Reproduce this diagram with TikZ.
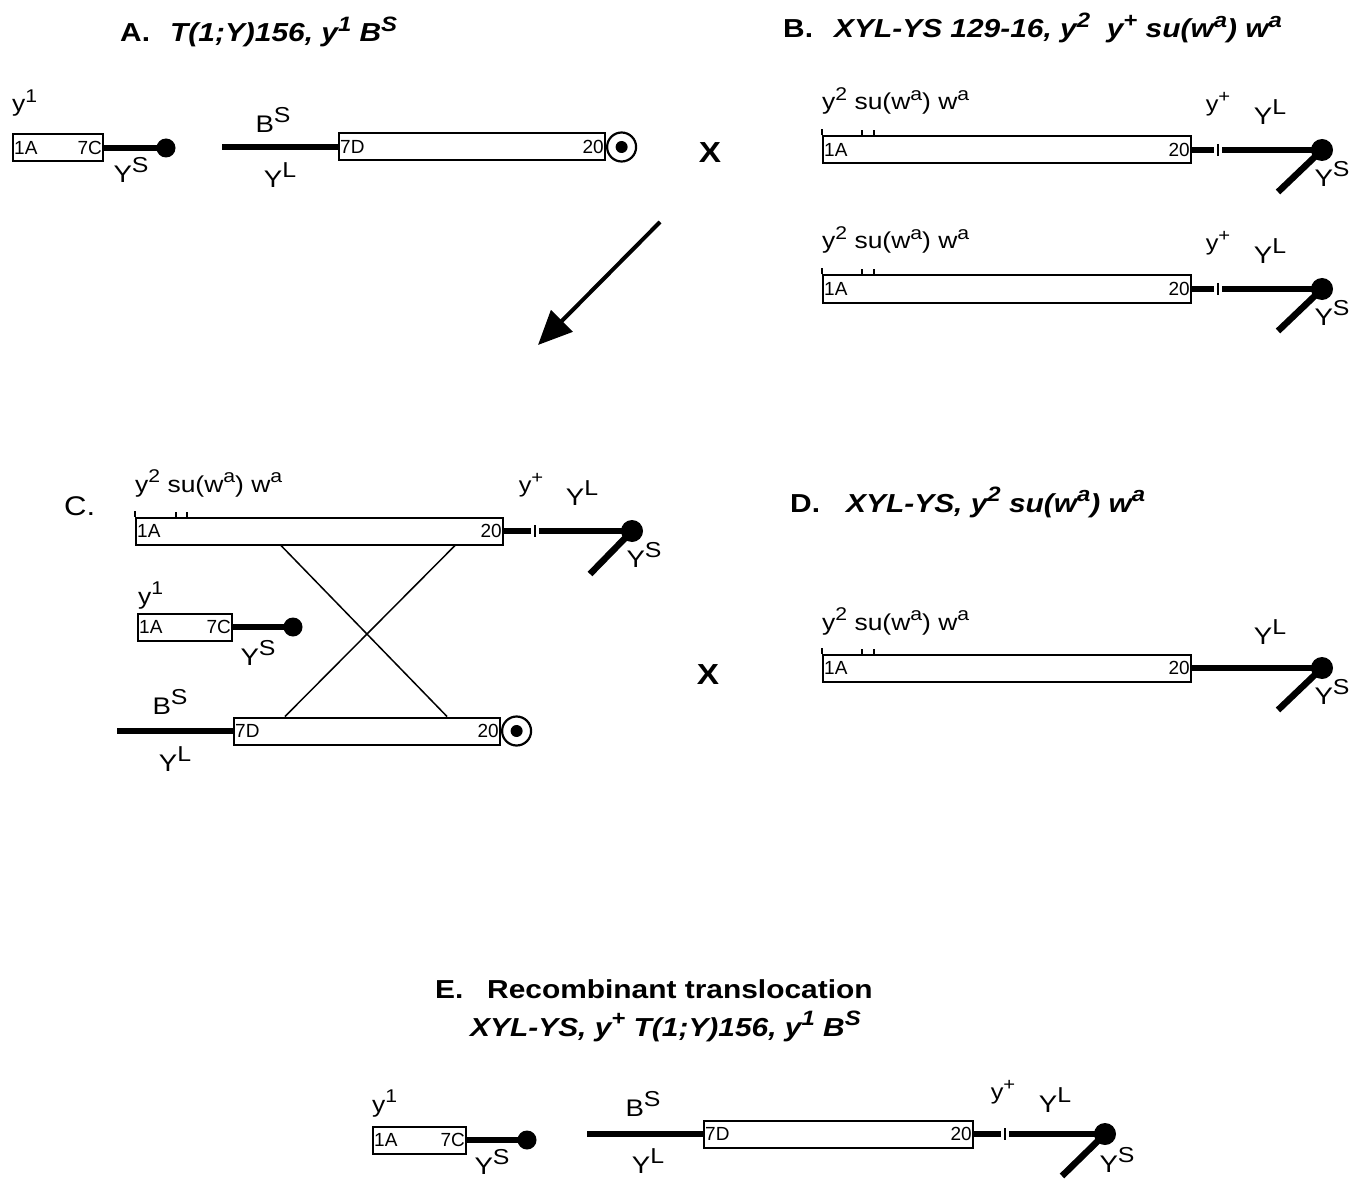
\documentclass[tikz,border=0pt]{standalone}
\usepackage{graphicx}
\usepackage{fontspec}
\setmainfont[FakeStretch=1.15]{Liberation Sans}
\newfontfamily\bandfont{Liberation Sans}
\usetikzlibrary{arrows.meta}
\newcommand\sups[1]{\raisebox{0.42em}{\scalebox{0.8}{#1}}}
\newcommand\ysup[1]{\raisebox{0.45em}{\scalebox{0.9}{#1}}}
\begin{document}
\begin{tikzpicture}[x=1pt,y=-1pt,
  ttl/.style={font=\fontsize{26}{28}\selectfont\bfseries, anchor=base west, inner sep=0pt},
  gl/.style={font=\fontsize{23}{24}\selectfont, anchor=base west, inner sep=0pt},
  gp/.style={font=\fontsize{22}{24}\selectfont, inner sep=0pt},
  yl/.style={font=\fontsize{24}{25}\selectfont, inner sep=0pt},
  bd/.style={font=\bandfont\fontsize{19}{19}\selectfont, inner sep=2pt},
  chr/.style={draw, line width=2pt, minimum height=27pt, inner sep=0pt, fill=white},
  arm/.style={line width=6.5pt},
  cen/.style={circle, fill, inner sep=0pt, minimum size=20pt},
  ring/.style={circle, draw, line width=2.2pt, minimum size=29pt, inner sep=0pt, fill=white},
  ringdot/.style={circle, fill, inner sep=0pt, minimum size=12pt},
  tk/.style={line width=1.5pt},
  cross/.style={line width=1.5pt},
  xmark/.style={font=\fontsize{29}{29}\selectfont\bfseries, inner sep=0pt}]
\useasboundingbox (0,0) rectangle (1362,1182);

% ---------------- Panel A
\node[ttl] (tA) at (120,42) {A.};
\node[ttl] (tAg) at (170,42) {\itshape T(1;Y)156, y\sups{1} B\sups{S}};

\node[gl] (a1g) at (12,112) {y\sups{1}};
\node[chr, minimum width=90pt, anchor=west] (a1) at (12,148) {};
\node[bd, anchor=west] at (a1.west) {1A};
\node[bd, anchor=east] at (a1.east) {7C};
\node[cen, minimum size=19pt] (a1c) at (166,148) {};
\draw[arm] (a1.east) -- (a1c.center);
\node[yl] (a1s) at (131,170) {Y\ysup{S}};

\node[yl] (a2b) at (273,120) {B\ysup{S}};
\node[chr, minimum width=266pt, anchor=west] (a2) at (338,147) {};
\coordinate (a2l) at (222,147);
\draw[arm] (a2l) -- (a2.west);
\node[bd, anchor=west] at (a2.west) {7D};
\node[bd, anchor=east] at (a2.east) {20};
\node[ring, anchor=west] (a2c) at (a2.east) {};
\node[ringdot] (a2cd) at (a2c) {};
\node[yl] (a2y) at (280,175) {Y\ysup{L}};

\node[xmark] (x1) at (710,153) {X};

\coordinate (ar1) at (660,222);
\coordinate (ar2) at (538,345);
\draw[line width=4pt, -{Triangle[length=34pt,width=30pt]}] (ar1) -- (ar2);

% ---------------- Panel B
\node[ttl] (tB) at (783,38) {B.};
\node[ttl] (tBg) at (834,38) {\itshape XYL-YS 129-16, y\sups{2}\ \ y\sups{+} su(w\sups{a}) w\sups{a}};

% B1
\node[gl] (b1g) at (822,110) {y\sups{2} su(w\sups{a}) w\sups{a}};
\node[chr, minimum width=368pt, anchor=west] (b1) at (822,150) {};
\draw[tk] (b1.north west) -- ++(0,-6);
\draw[tk] ([xshift=40pt]b1.north west) -- ++(0,-5);
\draw[tk] ([xshift=52pt]b1.north west) -- ++(0,-5);
\node[bd, anchor=west] at (b1.west) {1A};
\node[bd, anchor=east] at (b1.east) {20};
\node[cen, minimum size=22pt] (b1c) at (1322,150) {};
\coordinate (b1t) at (1218,150);
\draw[arm] (b1.east) -- ([xshift=-4pt]b1t);
\draw[arm] ([xshift=4pt]b1t) -- (b1c.center);
\draw[tk] ([yshift=6pt]b1t) -- ([yshift=-6pt]b1t);
\coordinate (b1d) at (1278,192);
\draw[arm] (b1c.center) -- (b1d);
\node[gp] (b1p) at (1218,104) {y\sups{+}};
\node[yl] (b1l) at (1270,112) {Y\ysup{L}};
\node[yl] (b1s) at (1332,174) {Y\ysup{S}};

% B2
\node[gl] (b2g) at (822,249) {y\sups{2} su(w\sups{a}) w\sups{a}};
\node[chr, minimum width=368pt, anchor=west] (b2) at (822,289) {};
\draw[tk] (b2.north west) -- ++(0,-6);
\draw[tk] ([xshift=40pt]b2.north west) -- ++(0,-5);
\draw[tk] ([xshift=52pt]b2.north west) -- ++(0,-5);
\node[bd, anchor=west] at (b2.west) {1A};
\node[bd, anchor=east] at (b2.east) {20};
\node[cen, minimum size=22pt] (b2c) at (1322,289) {};
\coordinate (b2t) at (1218,289);
\draw[arm] (b2.east) -- ([xshift=-4pt]b2t);
\draw[arm] ([xshift=4pt]b2t) -- (b2c.center);
\draw[tk] ([yshift=6pt]b2t) -- ([yshift=-6pt]b2t);
\coordinate (b2d) at (1278,331);
\draw[arm] (b2c.center) -- (b2d);
\node[gp] (b2p) at (1218,243) {y\sups{+}};
\node[yl] (b2l) at (1270,251) {Y\ysup{L}};
\node[yl] (b2s) at (1332,313) {Y\ysup{S}};

% ---------------- Panel C
\node[ttl, font=\fontsize{27}{28}\selectfont] (tC) at (64,515) {C.};

\node[gl] (c1g) at (135,492) {y\sups{2} su(w\sups{a}) w\sups{a}};
\node[chr, minimum width=367pt, anchor=west] (c1) at (135,531) {};
\draw[tk] (c1.north west) -- ++(0,-6);
\draw[tk] ([xshift=41pt]c1.north west) -- ++(0,-5);
\draw[tk] ([xshift=52pt]c1.north west) -- ++(0,-5);
\node[bd, anchor=west] at (c1.west) {1A};
\node[bd, anchor=east] at (c1.east) {20};
\node[cen, minimum size=22pt] (c1c) at (632,531) {};
\coordinate (c1t) at (535,531);
\draw[arm] (c1.east) -- ([xshift=-4pt]c1t);
\draw[arm] ([xshift=4pt]c1t) -- (c1c.center);
\draw[tk] ([yshift=6pt]c1t) -- ([yshift=-6pt]c1t);
\coordinate (c1d) at (590,574);
\draw[arm] (c1c.center) -- (c1d);
\node[gp] (c1p) at (531,485) {y\sups{+}};
\node[yl] (c1l) at (582,493) {Y\ysup{L}};
\node[yl] (c1s) at (644,555) {Y\ysup{S}};

\node[gl] (c2g) at (138,604) {y\sups{1}};
\node[chr, minimum width=94pt, anchor=west] (c2) at (137,627) {};
\node[bd, anchor=west] at (c2.west) {1A};
\node[bd, anchor=east] at (c2.east) {7C};
\node[cen, minimum size=19pt] (c2c) at (293,627) {};
\draw[arm] (c2.east) -- (c2c.center);
\node[yl] (c2s) at (258,653) {Y\ysup{S}};

\node[yl] (c3b) at (170,702) {B\ysup{S}};
\node[chr, minimum width=266pt, anchor=west] (c3) at (233,731) {};
\coordinate (c3l) at (117,731);
\draw[arm] (c3l) -- (c3.west);
\node[bd, anchor=west] at (c3.west) {7D};
\node[bd, anchor=east] at (c3.east) {20};
\node[ring, anchor=west] (c3c) at (c3.east) {};
\node[ringdot] (c3cd) at (c3c) {};
\node[yl] (c3y) at (175,759) {Y\ysup{L}};

\draw[cross] ([xshift=146pt]c1.south west) -- ([xshift=214pt]c3.north west);
\draw[cross] ([xshift=320pt]c1.south west) -- ([xshift=52pt]c3.north west);

\node[xmark] (x2) at (708,675) {X};

% ---------------- Panel D
\node[ttl] (tD) at (790,512) {D.};
\node[ttl] (tDg) at (846,512) {\itshape XYL-YS, y\sups{2} su(w\sups{a}) w\sups{a}};

\node[gl] (d1g) at (822,630) {y\sups{2} su(w\sups{a}) w\sups{a}};
\node[chr, minimum width=368pt, anchor=west] (d1) at (822,668) {};
\draw[tk] (d1.north west) -- ++(0,-6);
\draw[tk] ([xshift=40pt]d1.north west) -- ++(0,-5);
\draw[tk] ([xshift=52pt]d1.north west) -- ++(0,-5);
\node[bd, anchor=west] at (d1.west) {1A};
\node[bd, anchor=east] at (d1.east) {20};
\node[cen, minimum size=22pt] (d1c) at (1322,668) {};
\draw[arm] (d1.east) -- (d1c.center);
\coordinate (d1d) at (1278,710);
\draw[arm] (d1c.center) -- (d1d);
\node[yl] (d1l) at (1270,632) {Y\ysup{L}};
\node[yl] (d1s) at (1332,692) {Y\ysup{S}};

% ---------------- Panel E
\node[ttl] (tE) at (435,998) {E.};
\node[ttl] (tEa) at (487,998) {Recombinant translocation};
\node[ttl] (tEg) at (470,1036) {\itshape XYL-YS, y\sups{+} T(1;Y)156, y\sups{1} B\sups{S}};

\node[gl] (e1g) at (372,1112) {y\sups{1}};
\node[chr, minimum width=93pt, anchor=west] (e1) at (372,1140) {};
\node[bd, anchor=west] at (e1.west) {1A};
\node[bd, anchor=east] at (e1.east) {7C};
\node[cen, minimum size=19pt] (e1c) at (527,1140) {};
\draw[arm] (e1.east) -- (e1c.center);
\node[yl] (e1s) at (492,1162) {Y\ysup{S}};

\node[yl] (e2b) at (643,1104) {B\ysup{S}};
\node[chr, minimum width=269pt, anchor=west] (e2) at (703,1134) {};
\coordinate (e2l) at (587,1134);
\draw[arm] (e2l) -- (e2.west);
\node[bd, anchor=west] at (e2.west) {7D};
\node[bd, anchor=east] at (e2.east) {20};
\node[cen, minimum size=22pt] (e2c) at (1105,1134) {};
\coordinate (e2t) at (1005,1134);
\draw[arm] (e2.east) -- ([xshift=-4pt]e2t);
\draw[arm] ([xshift=4pt]e2t) -- (e2c.center);
\draw[tk] ([yshift=6pt]e2t) -- ([yshift=-6pt]e2t);
\coordinate (e2d) at (1062,1176);
\draw[arm] (e2c.center) -- (e2d);
\node[gp] (e2p) at (1003,1092) {y\sups{+}};
\node[yl] (e2y) at (648,1161) {Y\ysup{L}};
\node[yl] (e2l2) at (1055,1100) {Y\ysup{L}};
\node[yl] (e2s) at (1117,1160) {Y\ysup{S}};
\end{tikzpicture}
\end{document}
